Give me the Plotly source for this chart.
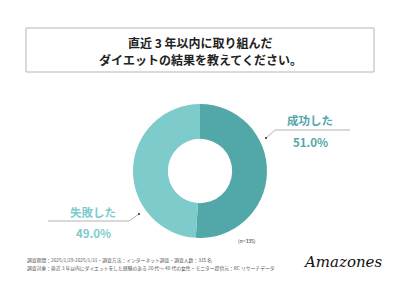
import plotly.graph_objects as go

categories = ["成功した", "失敗した"]
values = [51.0, 49.0]
colors = ["#52a8a8", "#7ecbcc"]
title_lines = ["直近 3 年以内に取り組んだ", "ダイエットの結果を教えてください。"]
footer_lines = [
    "調査期間：2025/1/29-2025/1/31・調査方法：インターネット調査・調査人数：335 名",
    "調査対象：直近 3 年以内にダイエットをした経験のある 20 代～ 40 代の女性・モニター提供元：RC リサーチデータ",
]
n_note = "(n=335)"

W, H = 400, 300
FONT = "Noto Sans CJK JP"

def px(x):
    return x / W

def py(y):
    return 1 - y / H

fig = go.Figure()
fig.add_trace(go.Pie(
    labels=categories, values=values, hole=0.48, sort=False, direction="clockwise",
    rotation=0, marker=dict(colors=colors, line=dict(width=0)),
    textinfo="none", hoverinfo="label+percent", showlegend=False,
    domain=dict(x=[px(133), px(267)], y=[py(238), py(104)]),
))

shapes = [
    dict(type="rect", xref="paper", yref="paper", x0=px(26), x1=px(374), y0=py(72), y1=py(28),
         line=dict(color="#b5b5b5", width=1), fillcolor="rgba(0,0,0,0)"),
    dict(type="path", xref="paper", yref="paper",
         path=f"M {px(266)} {py(138)} L {px(275)} {py(130)} L {px(350)} {py(130)}",
         line=dict(color="#a0a0a0", width=0.8)),
    dict(type="path", xref="paper", yref="paper",
         path=f"M {px(139)} {py(214)} L {px(129)} {py(221)} L {px(48)} {py(221)}",
         line=dict(color="#a0a0a0", width=0.8)),
    dict(type="circle", xref="paper", yref="paper", x0=px(265), x1=px(267), y0=py(139), y1=py(137),
         fillcolor="#222", line=dict(width=0)),
    dict(type="circle", xref="paper", yref="paper", x0=px(138), x1=px(140), y0=py(215), y1=py(213),
         fillcolor="#222", line=dict(width=0)),
]

annotations = [
    dict(text=f"<b>{title_lines[0]}</b>", x=px(200), y=py(42),
         font=dict(size=12, color="#222", family=FONT), borderpad=0),
    dict(text=f"<b>{title_lines[1]}</b>", x=px(200), y=py(60),
         font=dict(size=12, color="#222", family=FONT), borderpad=0),
    dict(text=f"<b>{categories[0]}</b>", x=px(310), y=py(120), font=dict(size=11.5, color=colors[0], family=FONT)),
    dict(text=f"<b>{values[0]:.1f}%</b>", x=px(310), y=py(142), font=dict(size=11.5, color=colors[0], family=FONT)),
    dict(text=f"<b>{categories[1]}</b>", x=px(93), y=py(212), font=dict(size=11.5, color=colors[1], family=FONT)),
    dict(text=f"<b>{values[1]:.1f}%</b>", x=px(93), y=py(233), font=dict(size=11.5, color=colors[1], family=FONT)),
    dict(text=n_note, x=px(247), y=py(240), font=dict(size=5, color="#333", family=FONT)),
    dict(text=footer_lines[0], x=px(25), y=py(260), xanchor="left", font=dict(size=4.8, color="#555", family=FONT)),
    dict(text=footer_lines[1], x=px(25), y=py(268), xanchor="left", font=dict(size=4.8, color="#555", family=FONT)),
    dict(text="<i>Amazones</i>", x=px(342), y=py(262), font=dict(size=15, color="#111", family="DejaVu Serif")),
]
for a in annotations:
    a.update(xref="paper", yref="paper", showarrow=False)
    a.setdefault("xanchor", "center")
    a.setdefault("yanchor", "middle")

fig.update_layout(
    width=W, height=H, margin=dict(l=0, r=0, t=0, b=0),
    paper_bgcolor="white", plot_bgcolor="white",
    shapes=shapes, annotations=annotations,
)
fig.write_html("out.html")
